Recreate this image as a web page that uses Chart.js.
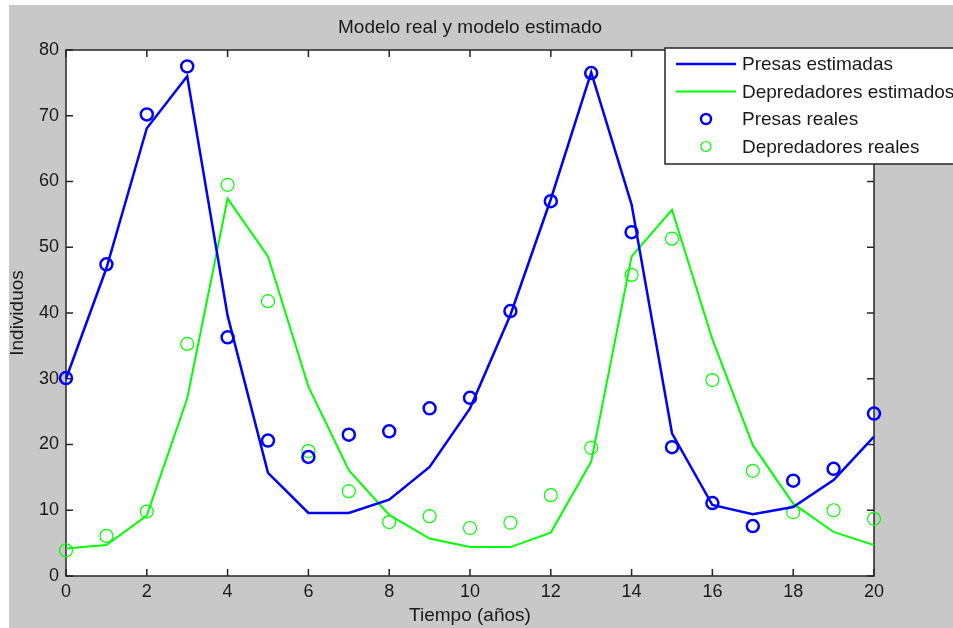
<!DOCTYPE html>
<html>
<head>
<meta charset="utf-8">
<title>Modelo real y modelo estimado</title>
<script src="https://cdn.jsdelivr.net/npm/chart.js@4.4.0/dist/chart.umd.min.js"></script>
<style>
  html, body { margin: 0; padding: 0; background: #fff; }
</style>
</head>
<body>
<canvas id="lvChart" width="953" height="628"></canvas>
<script>
// ---- data
const years = [0, 1, 2, 3, 4, 5, 6, 7, 8, 9, 10, 11, 12, 13, 14, 15, 16, 17, 18, 19, 20];
const presasEstimadas = [30, 46.8, 68.1, 76.0, 39.6, 15.7, 9.6, 9.6, 11.6, 16.6, 25.5, 39.7, 57.3, 76.6, 56.5, 21.7, 10.8, 9.4, 10.5, 14.6, 21.2];
const depredEstimados = [4.2, 4.7, 9.2, 27.0, 57.4, 48.6, 28.8, 16.1, 9.3, 5.7, 4.4, 4.4, 6.6, 17.4, 48.6, 55.7, 36.0, 19.9, 11.0, 6.7, 4.7];
const presasReales = [30.1, 47.4, 70.2, 77.5, 36.3, 20.6, 18.1, 21.5, 22.0, 25.5, 27.1, 40.3, 57.0, 76.5, 52.3, 19.6, 11.1, 7.6, 14.5, 16.3, 24.7];
const depredReales = [3.9, 6.1, 9.8, 35.3, 59.5, 41.8, 19.0, 12.9, 8.2, 9.1, 7.3, 8.1, 12.3, 19.5, 45.8, 51.3, 29.8, 16.0, 9.7, 10.0, 8.7];
const xTicks = [0, 2, 4, 6, 8, 10, 12, 14, 16, 18, 20];
const yTicks = [0, 10, 20, 30, 40, 50, 60, 70, 80];
const chartTitle = 'Modelo real y modelo estimado';

const BLUE = '#0000ff';
const GREEN = '#00ff00';
const AXIS = '#262626';
const TEXT = '#1a1a1a';
const FIG_BG = '#c8c8c8';
const FONT = '"Liberation Sans", Arial, sans-serif';

const toPts = arr => arr.map((v, i) => ({ x: years[i], y: v }));

Chart.defaults.font.family = FONT;
Chart.defaults.color = TEXT;

// grey figure background + white axes area + title centred over the axes
const figureBg = {
  id: 'figureBg',
  beforeDraw(chart) {
    const { ctx, chartArea: a } = chart;
    ctx.save();
    ctx.fillStyle = '#ffffff';
    ctx.fillRect(0, 0, chart.width, chart.height);
    ctx.fillStyle = FIG_BG;
    ctx.fillRect(9, 5, chart.width - 9, chart.height - 5);
    ctx.fillStyle = '#ffffff';
    ctx.fillRect(a.left, a.top, a.right - a.left, a.bottom - a.top);
    ctx.fillStyle = TEXT;
    ctx.font = '19px ' + FONT;
    ctx.textAlign = 'center';
    ctx.textBaseline = 'middle';
    ctx.fillText(chartTitle, (a.left + a.right) / 2, 28);
    ctx.restore();
  }
};

// matlab style box with inward ticks on all four sides
const axesBox = {
  id: 'axesBox',
  beforeDatasetsDraw(chart) {
    const { ctx, chartArea: a, scales } = chart;
    const tl = 7;
    ctx.save();
    ctx.strokeStyle = AXIS;
    ctx.lineWidth = 1.5;
    ctx.strokeRect(a.left, a.top, a.right - a.left, a.bottom - a.top);
    ctx.beginPath();
    xTicks.forEach(t => {
      const px = scales.x.getPixelForValue(t);
      ctx.moveTo(px, a.bottom); ctx.lineTo(px, a.bottom - tl);
      ctx.moveTo(px, a.top); ctx.lineTo(px, a.top + tl);
    });
    yTicks.forEach(t => {
      const py = scales.y.getPixelForValue(t);
      ctx.moveTo(a.left, py); ctx.lineTo(a.left + tl, py);
      ctx.moveTo(a.right, py); ctx.lineTo(a.right - tl, py);
    });
    ctx.stroke();
    ctx.restore();
  }
};

// legend box in the upper right corner
const boxLegend = {
  id: 'boxLegend',
  afterDraw(chart) {
    const { ctx } = chart;
    const left = 665, top = 48, right = 960, bottom = 164;
    const rowY = [64, 91.5, 119, 146.5];
    ctx.save();
    ctx.fillStyle = '#ffffff';
    ctx.fillRect(left, top, right - left, bottom - top);
    ctx.strokeStyle = AXIS;
    ctx.lineWidth = 1.5;
    ctx.strokeRect(left, top, right - left, bottom - top);
    ctx.font = '19px ' + FONT;
    ctx.textBaseline = 'middle';
    ctx.textAlign = 'left';
    chart.data.datasets.forEach((ds, i) => {
      const y = rowY[i];
      ctx.strokeStyle = ds.borderColor;
      ctx.lineWidth = ds.borderWidth;
      ctx.beginPath();
      if (ds.showLine === false) {
        ctx.arc(706, y, 5, 0, Math.PI * 2);
      } else {
        ctx.moveTo(676, y); ctx.lineTo(736, y);
      }
      ctx.stroke();
      ctx.fillStyle = TEXT;
      ctx.fillText(ds.label, 742, y + 1);
    });
    ctx.restore();
  }
};

new Chart(document.getElementById('lvChart'), {
  type: 'line',
  data: {
    datasets: [
      {
        label: 'Presas estimadas',
        data: toPts(presasEstimadas),
        borderColor: BLUE,
        borderWidth: 2.5,
        pointRadius: 0,
        tension: 0,
        clip: false
      },
      {
        label: 'Depredadores estimados',
        data: toPts(depredEstimados),
        borderColor: GREEN,
        borderWidth: 2,
        pointRadius: 0,
        tension: 0,
        clip: false
      },
      {
        label: 'Presas reales',
        data: toPts(presasReales),
        showLine: false,
        borderColor: BLUE,
        backgroundColor: 'rgba(0,0,0,0)',
        borderWidth: 2.5,
        pointRadius: 6,
        pointBorderWidth: 2.5,
        clip: false
      },
      {
        label: 'Depredadores reales',
        data: toPts(depredReales),
        showLine: false,
        borderColor: GREEN,
        backgroundColor: 'rgba(0,0,0,0)',
        borderWidth: 1.2,
        pointRadius: 6.5,
        pointBorderWidth: 1.2,
        clip: false
      }
    ]
  },
  options: {
    responsive: false,
    animation: false,
    layout: { padding: { left: 0, right: 79, top: 50, bottom: 0 } },
    scales: {
      x: {
        type: 'linear',
        min: 0,
        max: 20,
        afterFit: s => { s.height = 52; },
        afterBuildTicks: s => { s.ticks = xTicks.map(v => ({ value: v })); },
        grid: { display: false, drawTicks: false },
        border: { display: false },
        ticks: { padding: 5, font: { size: 18 }, color: TEXT, maxRotation: 0 },
        title: { display: true, text: 'Tiempo (años)', font: { size: 19 }, color: TEXT, padding: { top: 0, bottom: 1 } }
      },
      y: {
        type: 'linear',
        min: 0,
        max: 80,
        afterFit: s => { s.width = 66; },
        afterBuildTicks: s => { s.ticks = yTicks.map(v => ({ value: v })); },
        grid: { display: false, drawTicks: false },
        border: { display: false },
        ticks: { padding: 7, font: { size: 18 }, color: TEXT },
        title: { display: true, text: 'Individuos', font: { size: 19 }, color: TEXT, padding: { top: 6, bottom: 0 } }
      }
    },
    plugins: {
      legend: { display: false },
      tooltip: { enabled: false },
      title: { display: false }
    }
  },
  plugins: [figureBg, axesBox, boxLegend]
});
</script>
</body>
</html>
